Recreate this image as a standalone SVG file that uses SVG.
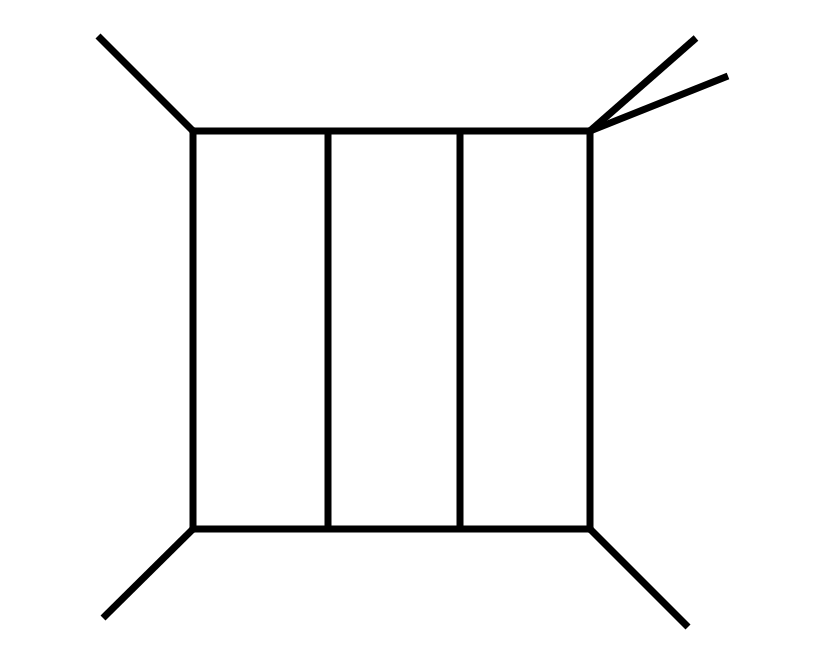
<svg xmlns="http://www.w3.org/2000/svg" width="830" height="655" viewBox="0 0 830 655">
<style>
.e{stroke:#000;stroke-width:7;fill:none;stroke-linecap:butt;stroke-linejoin:miter}
</style>
<rect width="830" height="655" fill="#fff"/>
<g id="connectors">
<polyline class="e" points="193,131 590,131 590,529 193,529 193,131"/>
<line class="e" x1="328" y1="131" x2="328" y2="529"/>
<line class="e" x1="460" y1="131" x2="460" y2="529"/>
<line class="e" x1="98" y1="36" x2="193" y2="131"/>
<line class="e" x1="590" y1="131" x2="696" y2="38"/>
<line class="e" x1="590" y1="131" x2="728" y2="76"/>
<line class="e" x1="193" y1="529" x2="103" y2="618"/>
<line class="e" x1="590" y1="529" x2="688" y2="627"/>
</g>
</svg>
